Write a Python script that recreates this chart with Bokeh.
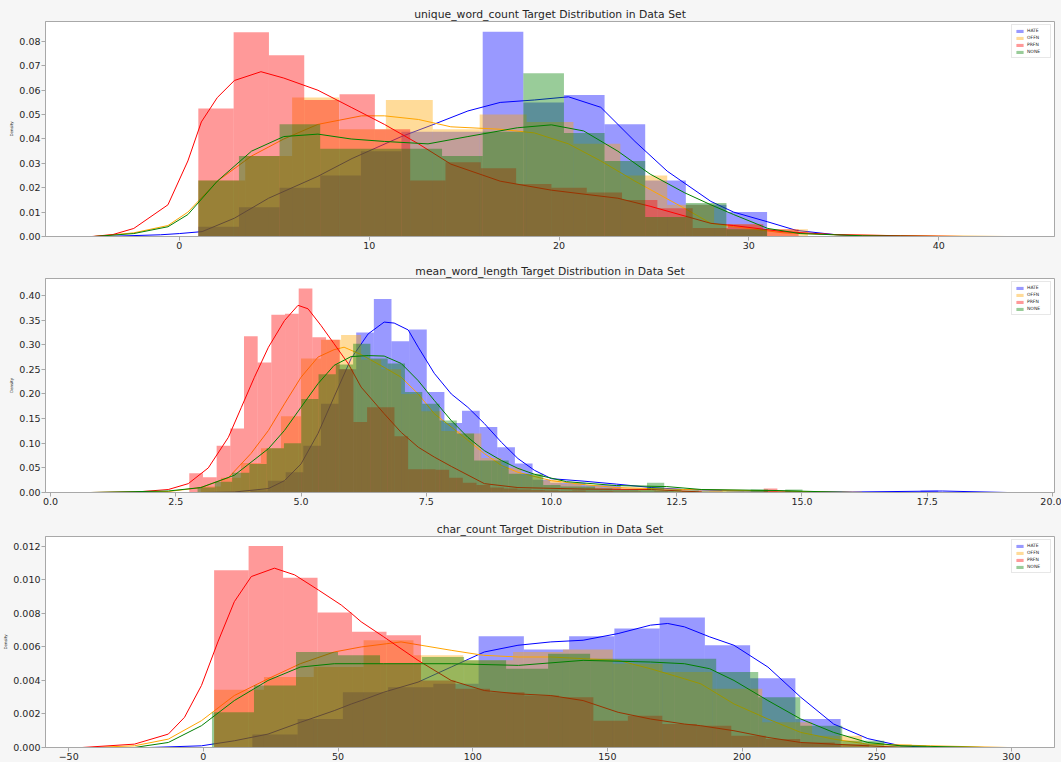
import numpy as np
from bokeh.plotting import figure
from bokeh.layouts import column
from bokeh.models import Range1d, FixedTicker, NumeralTickFormatter, CustomJSTickFormatter
from bokeh.embed import file_html
from bokeh.resources import INLINE

CLASSES = ["HATE", "OFFN", "PRFN", "NONE"]
COLORS = ["#0000ff", "#ffa500", "#ff0000", "#008000"]

# ---------------- Panel 1: unique_word_count ----------------
uwc_x_ticks = [0, 10, 20, 30, 40]
uwc_y_ticks = [0.00, 0.01, 0.02, 0.03, 0.04, 0.05, 0.06, 0.07, 0.08]
# histograms: (first bin edge, bin width, densities)
uwc_hate_hist = (1.0, 2.14, [0.004, 0.012, 0.020, 0.025, 0.035, 0.043, 0.043, 0.084, 0.055, 0.058, 0.046, 0.023, 0.013, 0.010])
uwc_offn_hist = (1.0, 2.47, [0.023, 0.033, 0.057, 0.044, 0.056, 0.044, 0.050, 0.047, 0.038, 0.025, 0.013, 0.005, 0.003])
uwc_prfn_hist = (1.0, 1.86, [0.0525, 0.0838, 0.0744, 0.056, 0.0584, 0.044, 0.023, 0.0305, 0.028, 0.0215, 0.020, 0.018, 0.015, 0.0116, 0.0035, 0.005, 0.003])
uwc_none_hist = (1.0, 2.14, [0.023, 0.033, 0.046, 0.036, 0.036, 0.036, 0.033, 0.043, 0.067, 0.0425, 0.031, 0.008, 0.0137, 0.003])
uwc_hate_kde_x = [-4, -1, 0, 1.2, 2.9, 4.7, 7.3, 9.1, 11.7, 13.4, 15.2, 16.9, 18.7, 20.5, 22.2, 24.0, 25.7, 28.0, 29.2, 31.0, 32.5, 34.5, 36]
uwc_hate_kde_y = [0, 0.0007, 0.0012, 0.002, 0.0075, 0.0157, 0.0247, 0.032, 0.041, 0.046, 0.0515, 0.055, 0.056, 0.0573, 0.053, 0.039, 0.0268, 0.0144, 0.010, 0.006, 0.0025, 0.0008, 0.0001]
uwc_offn_kde_x = [-4.5, -2.4, -0.6, 0.45, 2.0, 3.8, 5.5, 7.3, 9.6, 10.8, 12.6, 14.3, 16.9, 18.7, 20.5, 22.2, 24.0, 26.6, 28.0, 29.2, 31.8, 35, 40, 43.6]
uwc_offn_kde_y = [0, 0.0015, 0.0045, 0.010, 0.0227, 0.033, 0.040, 0.046, 0.0495, 0.0495, 0.048, 0.045, 0.044, 0.0425, 0.038, 0.031, 0.0227, 0.0116, 0.0054, 0.004, 0.0015, 0.0006, 0.0002, 0]
uwc_prfn_kde_x = [-4.6, -3.5, -2.4, -0.6, 0.45, 1.16, 2.0, 2.9, 4.3, 5.5, 7.3, 9.05, 10.8, 12.6, 14.3, 16.9, 19.6, 23.1, 24.8, 28.0, 29.2, 31.8, 34.5, 38, 41.3]
uwc_prfn_kde_y = [0, 0.0008, 0.0033, 0.013, 0.031, 0.047, 0.057, 0.064, 0.0676, 0.065, 0.060, 0.053, 0.046, 0.038, 0.0297, 0.0227, 0.019, 0.0157, 0.0124, 0.0054, 0.0045, 0.002, 0.0008, 0.0003, 0]
uwc_none_kde_x = [-4.5, -2.4, -0.6, 0.45, 2.0, 3.8, 5.5, 7.3, 9.05, 10.8, 13.1, 15.2, 17.8, 19.6, 21.3, 23.1, 24.8, 26.6, 28.0, 29.2, 31.0, 32.7, 36, 40]
uwc_none_kde_y = [0, 0.0012, 0.004, 0.009, 0.0227, 0.035, 0.041, 0.042, 0.040, 0.039, 0.038, 0.041, 0.0446, 0.0458, 0.0433, 0.035, 0.0256, 0.018, 0.013, 0.009, 0.0033, 0.0012, 0.0003, 0]

# ---------------- Panel 2: mean_word_length ----------------
mwl_x_ticks = [0.0, 2.5, 5.0, 7.5, 10.0, 12.5, 15.0, 17.5, 20.0]
mwl_y_ticks = [0.00, 0.05, 0.10, 0.15, 0.20, 0.25, 0.30, 0.35, 0.40]
mwl_hate_hist = (3.99, 0.352, [0.004, 0.024, 0.041, 0.095, 0.18, 0.25, 0.325, 0.393, 0.307, 0.331, 0.204, 0.141, 0.166, 0.133, 0.092, 0.059, 0.026, 0.02, 0.02, 0.015, 0.015, 0.006, 0.004, 0.003, 0.002, 0.002, 0, 0.002, 0, 0, 0, 0, 0, 0, 0, 0, 0, 0, 0.004])
mwl_offn_hist = (3.0, 0.40, [0.012, 0.03, 0.06, 0.09, 0.155, 0.272, 0.31, 0.32, 0.27, 0.25, 0.2, 0.165, 0.125, 0.12, 0.07, 0.05, 0.035, 0.025, 0.018, 0.012, 0.01, 0.008, 0.006, 0.005, 0.004, 0.003, 0.005, 0.004, 0.004, 0.002, 0.003, 0.0, 0.002])
mwl_prfn_hist = (2.77, 0.273, [0.039, 0.031, 0.095, 0.13, 0.317, 0.264, 0.361, 0.363, 0.414, 0.315, 0.31, 0.25, 0.143, 0.173, 0.173, 0.114, 0.047, 0.047, 0.046, 0.03, 0.02, 0.015, 0.01, 0.008, 0.006, 0.005, 0.004, 0.003, 0.004, 0.002, 0.003, 0.002, 0.002, 0.001, 0.002, 0.001, 0.003, 0.001, 0.002, 0.001, 0.001, 0.001, 0.008, 0.002, 0.001, 0.001])
mwl_none_hist = (2.935, 0.345, [0.01, 0.022, 0.04, 0.058, 0.09, 0.10, 0.19, 0.24, 0.26, 0.302, 0.272, 0.262, 0.204, 0.18, 0.146, 0.12, 0.065, 0.065, 0.038, 0.038, 0.015, 0.012, 0.012, 0.008, 0.006, 0.006, 0.02, 0.006, 0.004, 0.002, 0.002, 0.002, 0.006, 0.0, 0.006])
mwl_hate_kde_x = [3.0, 3.67, 4.35, 4.67, 5.0, 5.34, 5.66, 6.0, 6.34, 6.66, 6.86, 7.14, 7.34, 7.66, 8.0, 8.33, 8.66, 9.0, 9.33, 9.66, 10.0, 10.65, 11.3, 12.0, 12.65, 14.0, 16.0, 17.8, 19.1]
mwl_hate_kde_y = [0, 0.001, 0.008, 0.024, 0.058, 0.12, 0.194, 0.272, 0.322, 0.346, 0.344, 0.33, 0.295, 0.242, 0.2, 0.173, 0.14, 0.102, 0.069, 0.045, 0.028, 0.023, 0.017, 0.01, 0.006, 0.003, 0.001, 0.003, 0]
mwl_offn_kde_x = [0.8, 2.35, 3.0, 3.55, 4.0, 4.35, 4.67, 5.0, 5.34, 5.66, 5.86, 6.2, 6.66, 7.0, 7.34, 7.66, 8.0, 8.33, 8.66, 9.0, 9.33, 10.0, 10.65, 11.3, 12.65, 14.0, 15.5, 16.2]
mwl_offn_kde_y = [0, 0.002, 0.01, 0.03, 0.079, 0.126, 0.18, 0.234, 0.275, 0.29, 0.295, 0.28, 0.254, 0.234, 0.2, 0.16, 0.133, 0.106, 0.079, 0.055, 0.041, 0.024, 0.016, 0.01, 0.006, 0.004, 0.001, 0]
mwl_prfn_kde_x = [0.8, 1.7, 2.35, 2.75, 3.15, 3.55, 3.81, 4.07, 4.35, 4.67, 4.94, 5.14, 5.40, 5.66, 5.94, 6.2, 6.66, 7.0, 7.34, 7.66, 8.0, 8.66, 9.33, 10.65, 12.0, 13.0]
mwl_prfn_kde_y = [0, 0.001, 0.006, 0.018, 0.05, 0.112, 0.173, 0.234, 0.295, 0.349, 0.38, 0.373, 0.339, 0.302, 0.262, 0.214, 0.16, 0.122, 0.092, 0.072, 0.053, 0.018, 0.01, 0.007, 0.006, 0.001]
mwl_none_kde_x = [0.8, 2.35, 3.0, 3.67, 4.35, 4.67, 5.0, 5.34, 5.66, 6.0, 6.34, 6.66, 7.0, 7.34, 7.66, 8.0, 8.33, 8.66, 9.0, 9.33, 9.66, 10.3, 11.3, 12.3, 13.0, 14.5, 16.0]
mwl_none_kde_y = [0, 0.003, 0.01, 0.035, 0.089, 0.126, 0.173, 0.221, 0.258, 0.276, 0.278, 0.277, 0.262, 0.227, 0.187, 0.146, 0.112, 0.085, 0.065, 0.049, 0.037, 0.022, 0.014, 0.012, 0.006, 0.004, 0]

# ---------------- Panel 3: char_count ----------------
cc_x_ticks = [-50, 0, 50, 100, 150, 200, 250, 300]
cc_y_ticks = [0.000, 0.002, 0.004, 0.006, 0.008, 0.010, 0.012]
cc_hate_hist = (18.2, 16.8, [0.00077, 0.0017, 0.0033, 0.0036, 0.0038, 0.00664, 0.00585, 0.00664, 0.0071, 0.00776, 0.0061, 0.00413, 0.0017])
cc_offn_hist = (4.0, 18.5, [0.00345, 0.0042, 0.0048, 0.0064, 0.0055, 0.0052, 0.0057, 0.00585, 0.0050, 0.0045, 0.0035, 0.0015, 0.0007, 0.0002])
cc_prfn_hist = (4.0, 12.8, [0.01058, 0.01202, 0.01013, 0.00806, 0.0069, 0.0067, 0.004, 0.0035, 0.0033, 0.0031, 0.003, 0.0016, 0.0019, 0.0014, 0.0013, 0.0007, 0.0005, 0.0003, 0.0002])
cc_none_hist = (3.2, 15.6, [0.0021, 0.0037, 0.0057, 0.0055, 0.0050, 0.0054, 0.0052, 0.0047, 0.0056, 0.0053, 0.0053, 0.0053, 0.0045, 0.0030, 0.0013, 0.0004, 0.0001])
cc_hate_kde_x = [-20, -0.7, 11.5, 24, 36, 48.6, 55, 58.6, 67, 79.7, 92, 104.3, 116.8, 129, 141, 154, 166, 172.4, 178.6, 188, 197, 209.6, 221.8, 234, 246.7, 259, 270]
cc_hate_kde_y = [0, 0.0001, 0.0004, 0.0008, 0.0015, 0.0022, 0.0026, 0.0028, 0.0033, 0.0039, 0.0048, 0.0057, 0.0061, 0.0063, 0.0064, 0.0068, 0.0073, 0.0074, 0.0072, 0.0066, 0.0061, 0.0048, 0.003, 0.0014, 0.00053, 0.0001, 0]
cc_offn_kde_x = [-41.5, -25.6, -13, -0.7, 11.5, 24, 36, 48.6, 58.6, 73.4, 92, 104, 117, 129, 141, 154, 166, 178.6, 184.7, 197, 209.6, 221.8, 234, 246.7, 270, 298.6]
cc_offn_kde_y = [0, 0.0001, 0.0005, 0.0016, 0.0031, 0.0041, 0.005, 0.0057, 0.006, 0.0063, 0.0058, 0.0055, 0.0054, 0.0054, 0.0053, 0.0052, 0.0047, 0.0041, 0.0038, 0.0026, 0.0017, 0.0009, 0.0005, 0.0002, 0.0001, 0]
cc_prfn_kde_x = [-45, -25.6, -13, -7, -0.7, 5.4, 11.5, 17.8, 26.4, 33.9, 42.7, 51.2, 55, 58.6, 67, 79.7, 92, 104.3, 116.8, 129, 141, 154, 166, 178.6, 184.7, 197, 209.6, 221.8, 234, 260]
cc_prfn_kde_y = [0, 0.0002, 0.0008, 0.0018, 0.0037, 0.0063, 0.0087, 0.0102, 0.0107, 0.0103, 0.0094, 0.0085, 0.008, 0.0075, 0.0066, 0.0052, 0.004, 0.0034, 0.0032, 0.0031, 0.0028, 0.0021, 0.0017, 0.0014, 0.0013, 0.001, 0.0006, 0.0003, 0.0002, 0]
cc_none_kde_x = [-40, -25.6, -13, -0.7, 11.5, 24, 36, 48.6, 58.6, 67, 92, 117, 141, 166, 178.6, 188, 197, 209.6, 221.8, 234, 246.7, 259, 290]
cc_none_kde_y = [0, 0.0, 0.0003, 0.0013, 0.0028, 0.004, 0.0048, 0.005, 0.005, 0.005, 0.005, 0.0049, 0.0052, 0.0051, 0.005, 0.0047, 0.004, 0.0028, 0.0017, 0.0009, 0.0003, 0.0001, 0]

BG = "#f6f6f6"
FRAME = "#a8a8a8"
TXT = "#262626"
FONT = "DejaVu Sans"


def make_panel(title, xr, yr, xticks, yticks, xfmt, yfmt, hists, kdes, height, top, bottom):
    p = figure(width=1061, height=height, x_range=Range1d(*xr), y_range=Range1d(*yr),
               output_backend="svg", toolbar_location=None,
               min_border_left=44, min_border_right=7, min_border_top=top, min_border_bottom=bottom,
               border_fill_color=BG, background_fill_color="white",
               outline_line_color=FRAME, outline_line_width=1, title=title)
    p.title.align = "center"
    p.title.text_font = FONT
    p.title.text_font_size = "10.8px"
    p.title.text_font_style = "normal"
    p.title.text_color = TXT
    p.title.standoff = 2
    p.grid.visible = False
    for name, color, (start, width, heights), (kx, ky) in zip(CLASSES, COLORS, hists, kdes):
        h = np.array(heights, dtype=float)
        edges = start + width * np.arange(len(h) + 1)
        p.quad(left=edges[:-1], right=edges[1:], bottom=0, top=h,
               fill_color=color, fill_alpha=0.4, line_color=None, legend_label=name)
        p.line(kx, ky, line_color=color, line_width=1)
    for ax in (p.xaxis[0], p.yaxis[0]):
        ax.axis_line_color = FRAME
        ax.major_tick_line_color = FRAME
        ax.major_tick_out = 4
        ax.major_tick_in = 0
        ax.minor_tick_line_color = None
        ax.major_label_text_font = FONT
        ax.major_label_text_font_size = "9.5px"
        ax.major_label_text_color = TXT
        ax.major_label_standoff = 1
    p.xaxis.ticker = FixedTicker(ticks=xticks)
    p.yaxis.ticker = FixedTicker(ticks=yticks)
    p.xaxis.formatter = xfmt
    p.yaxis.formatter = yfmt
    p.yaxis.axis_label = "Density"
    p.yaxis.axis_label_text_font_size = "4px"
    p.yaxis.axis_label_text_font_style = "normal"
    p.yaxis.axis_label_text_font = FONT
    p.yaxis.axis_label_text_color = TXT
    p.yaxis.axis_label_standoff = 2
    lg = p.legend[0]
    lg.location = "top_right"
    lg.label_text_font = FONT
    lg.label_text_font_size = "4.5px"
    lg.label_text_color = TXT
    lg.glyph_width = 9
    lg.glyph_height = 4
    lg.label_height = 5
    lg.label_standoff = 3
    lg.spacing = 2
    lg.padding = 3
    lg.margin = 3
    lg.border_line_color = "#d0d0d0"
    lg.background_fill_alpha = 0.8
    return p


def minus_fmt(decimals):
    return CustomJSTickFormatter(code="return (tick < 0 ? '\\u2212' : '') + Math.abs(tick).toFixed(%d);" % decimals)


p1 = make_panel("unique_word_count Target Distribution in Data Set", (-7.05, 46.1), (0, 0.0882),
                uwc_x_ticks, uwc_y_ticks, minus_fmt(0), NumeralTickFormatter(format="0.00"),
                [uwc_hate_hist, uwc_offn_hist, uwc_prfn_hist, uwc_none_hist],
                [(uwc_hate_kde_x, uwc_hate_kde_y), (uwc_offn_kde_x, uwc_offn_kde_y),
                 (uwc_prfn_kde_x, uwc_prfn_kde_y), (uwc_none_kde_x, uwc_none_kde_y)],
                257, 21, 21)
p2 = make_panel("mean_word_length Target Distribution in Data Set", (-0.1, 20.04), (0, 0.4345),
                mwl_x_ticks, mwl_y_ticks, minus_fmt(1), NumeralTickFormatter(format="0.00"),
                [mwl_hate_hist, mwl_offn_hist, mwl_prfn_hist, mwl_none_hist],
                [(mwl_hate_kde_x, mwl_hate_kde_y), (mwl_offn_kde_x, mwl_offn_kde_y),
                 (mwl_prfn_kde_x, mwl_prfn_kde_y), (mwl_none_kde_x, mwl_none_kde_y)],
                257, 21, 22)
p3 = make_panel("char_count Target Distribution in Data Set", (-58.6, 316.0), (0, 0.01259),
                cc_x_ticks, cc_y_ticks, minus_fmt(0), NumeralTickFormatter(format="0.000"),
                [cc_hate_hist, cc_offn_hist, cc_prfn_hist, cc_none_hist],
                [(cc_hate_kde_x, cc_hate_kde_y), (cc_offn_kde_x, cc_offn_kde_y),
                 (cc_prfn_kde_x, cc_prfn_kde_y), (cc_none_kde_x, cc_none_kde_y)],
                248, 22, 13)

layout = column(p1, p2, p3, spacing=0, styles={"background-color": BG})
open("out.html", "w").write(file_html(layout, INLINE))
